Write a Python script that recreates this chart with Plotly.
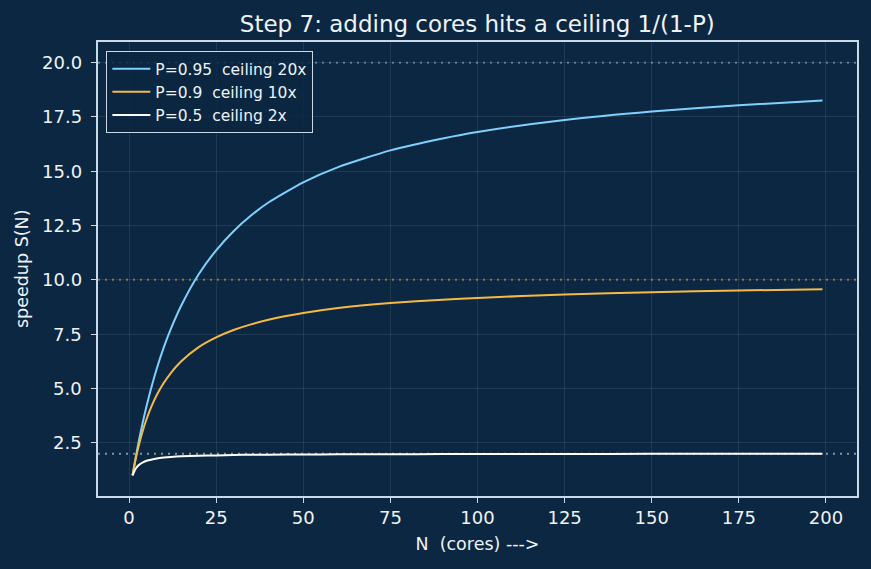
import plotly.graph_objects as go

# Values
n_cores = [1, 2, 3, 4, 5, 6, 8, 10, 12, 15, 20, 25, 30, 35, 40, 50, 60, 75, 90, 100, 125, 150, 175, 199]
s_p95 = [1.00, 1.90, 2.73, 3.48, 4.17, 4.80, 5.93, 6.90, 7.74, 8.82, 10.26, 11.36, 12.24, 12.96, 13.56, 14.49, 15.19, 15.96, 16.51, 16.81, 17.36, 17.75, 18.04, 18.26]
s_p90 = [1.00, 1.82, 2.50, 3.08, 3.57, 4.00, 4.71, 5.26, 5.71, 6.25, 6.90, 7.35, 7.69, 7.95, 8.16, 8.47, 8.70, 8.93, 9.09, 9.17, 9.33, 9.43, 9.51, 9.57]
s_p50 = [1.00, 1.33, 1.50, 1.60, 1.67, 1.71, 1.78, 1.82, 1.85, 1.88, 1.90, 1.92, 1.94, 1.95, 1.95, 1.96, 1.97, 1.97, 1.98, 1.98, 1.98, 1.99, 1.99, 1.99]
series_names = ["P=0.95  ceiling 20x", "P=0.9  ceiling 10x", "P=0.5  ceiling 2x"]
ceilings = [20, 10, 2]
x_ticks = [0, 25, 50, 75, 100, 125, 150, 175, 200]
y_ticks = [2.5, 5, 7.5, 10, 12.5, 15, 17.5, 20]
colors = ["#80d0ff", "#f5b944", "#ffffff"]
ceiling_colors = ["rgba(128,208,255,0.5)", "rgba(245,185,68,0.5)", "rgba(255,255,255,0.5)"]

bg = "#0c2741"
fg = "#eef3f8"
frame = "#c9d9e8"

fig = go.Figure()
for name, ys, c in zip(series_names, [s_p95, s_p90, s_p50], colors):
    fig.add_trace(go.Scatter(x=n_cores, y=ys, mode="lines", name=name,
                             line=dict(color=c, width=2, shape="spline", smoothing=0.6)))

for yv, c in zip(ceilings, ceiling_colors):
    fig.add_shape(type="line", xref="paper", yref="y", x0=0, x1=1, y0=yv, y1=yv,
                  line=dict(color=c, width=2, dash="2px,5px"), layer="below")

# y tick labels placed with a wider gap from the axis
for t in y_ticks:
    fig.add_annotation(x=0, xref="paper", y=t, yref="y", text=f"{t:.1f}", showarrow=False,
                       xanchor="right", yanchor="middle", xshift=-14,
                       font=dict(size=18, color=fg))
fig.add_annotation(x=22, xref="pixel" if False else "paper", y=0.5, yref="paper",
                   text="speedup S(N)", showarrow=False, textangle=-90,
                   xanchor="center", yanchor="middle", font=dict(size=17.5, color=fg))
fig.layout.annotations[-1].update(x=(22 - 98) / (871 - 98 - 14))

axis_common = dict(showline=True, linecolor=frame, linewidth=1.5, mirror=True,
                   ticks="outside", ticklen=5, tickcolor=frame, tickwidth=1.2,
                   showgrid=True, gridcolor="rgba(255,255,255,0.09)", gridwidth=1,
                   zeroline=False, tickfont=dict(size=18, color=fg),
                   title_font=dict(size=17.5, color=fg))

fig.update_layout(
    width=871, height=569,
    paper_bgcolor=bg, plot_bgcolor=bg,
    margin=dict(l=98, r=14, t=42, b=73),
    font=dict(family="DejaVu Sans", color=fg),
    title=dict(text="Step 7: adding cores hits a ceiling 1/(1-P)", x=0.548, xanchor="center",
               xref="container", y=0.958, yanchor="middle", font=dict(size=23, color=fg)),
    xaxis=dict(range=[-8.9, 208.9], tickvals=x_ticks,
               title=dict(text="N  (cores) --->", standoff=10), **axis_common),
    yaxis=dict(range=[0.05, 20.95], tickvals=y_ticks, showticklabels=False, **axis_common),
    legend=dict(x=0.011, y=0.98, xanchor="left", yanchor="top",
                bgcolor="rgba(12,39,65,0.85)", bordercolor=frame, borderwidth=1,
                font=dict(size=15.5, color=fg), tracegroupgap=0, itemwidth=38),
    showlegend=True,
)

fig.write_html("out.html")
